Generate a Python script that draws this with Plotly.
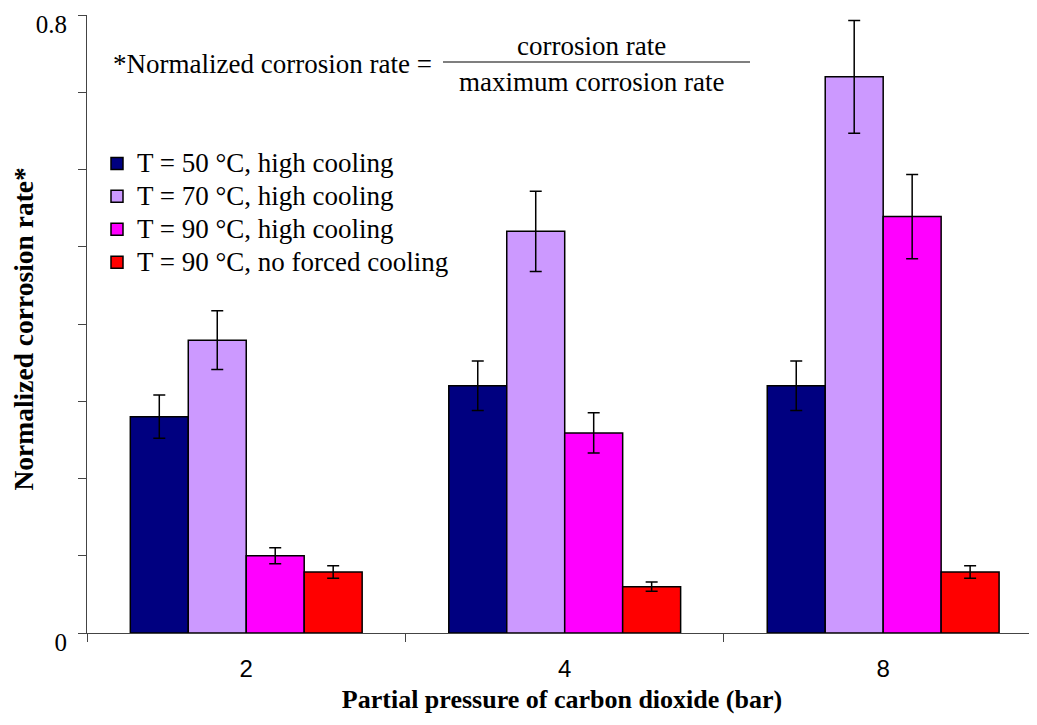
import plotly.graph_objects as go

categories = ["2", "4", "8"]
series_names = [
    "T = 50 °C, high cooling",
    "T = 70 °C, high cooling",
    "T = 90 °C, high cooling",
    "T = 90 °C, no forced cooling",
]
series_colors = ["#000080", "#CC99FF", "#FF00FF", "#FF0000"]
values_50_high = [0.280, 0.320, 0.320]
values_70_high = [0.379, 0.520, 0.720]
values_90_high = [0.100, 0.259, 0.539]
values_90_none = [0.079, 0.060, 0.079]
errors_50_high = [0.028, 0.032, 0.032]
errors_70_high = [0.038, 0.052, 0.073]
errors_90_high = [0.0105, 0.026, 0.0545]
errors_90_none = [0.008, 0.006, 0.008]
y_tick_vals = [0, 0.1, 0.2, 0.3, 0.4, 0.5, 0.6, 0.7, 0.8]
y_tick_text = ["0", "", "", "", "", "", "", "", "0.8"]

all_values = [values_50_high, values_70_high, values_90_high, values_90_none]
all_errors = [errors_50_high, errors_70_high, errors_90_high, errors_90_none]

SERIF = "Liberation Serif, Times New Roman, serif"
SANS = "Liberation Sans, Arial, sans-serif"

# page has an 8px body margin; compensate so the plot area lands at page 87..1037 x 15..633
OFF = 8
W, H = 1037 - OFF, 725 - OFF
PL, PR, PT, PB = 87, 1037, 15, 633  # plot area in page pixels
L, R, T, B = PL - OFF, 0, PT - OFF, H - (PB - OFF)
pw, ph = PR - PL, PB - PT


def px(x):
    return (x - PL) / pw


def py(y):
    return (PB - y) / ph


fig = go.Figure()
for name, color, vals, errs in zip(series_names, series_colors, all_values, all_errors):
    fig.add_trace(go.Bar(
        x=categories, y=vals, name='<span style="font-size:27px">%s</span>' % name,
        marker=dict(color=color, line=dict(color="black", width=1.5)),
        error_y=dict(type="data", array=errs, visible=True, color="black",
                     thickness=1.5, width=6),
    ))

fig.update_layout(
    width=W, height=H,
    margin=dict(l=L, r=R, t=T, b=B, autoexpand=False),
    paper_bgcolor="white", plot_bgcolor="white",
    barmode="group", bargap=0.272, bargroupgap=0,
    showlegend=True,
    legend=dict(x=px(97), y=py(142), xanchor="left", yanchor="top",
                font=dict(family=SERIF, size=23, color="black"),
                bgcolor="rgba(0,0,0,0)", tracegroupgap=0, itemwidth=30),
    xaxis=dict(type="category", tickson="boundaries", ticks="outside", ticklen=8,
               tickcolor="#444", showline=True, linecolor="#444", linewidth=1,
               showgrid=False, range=[-0.5, 2.483], automargin=False,
               tickfont=dict(family=SANS, size=24, color="black"),
               ticklabelstandoff=14,
               title=dict(text="<b>Partial pressure of carbon dioxide (bar)</b>",
                          font=dict(family=SERIF, size=26, color="black"), standoff=9)),
    yaxis=dict(range=[0, 0.8], tickvals=y_tick_vals, ticktext=y_tick_text,
               ticks="outside", ticklen=8, tickcolor="#444", automargin=False,
               showline=True, linecolor="#444", linewidth=1, showgrid=False,
               zeroline=False, ticklabelshift=9, ticklabelstandoff=6,
               tickfont=dict(family=SERIF, size=25, color="black")),
)

fig.add_annotation(xref="paper", yref="paper", x=px(23), y=py(329.5),
                   xanchor="center", yanchor="middle", showarrow=False, textangle=-90,
                   text="<b>Normalized corrosion rate*</b>",
                   font=dict(family=SERIF, size=27.5, color="black"))
fig.add_annotation(xref="paper", yref="paper", x=px(111), y=py(64),
                   xanchor="left", yanchor="middle", showarrow=False,
                   text="*Normalized corrosion rate =",
                   font=dict(family=SERIF, size=27, color="black"))
fig.add_annotation(xref="paper", yref="paper", x=px(591), y=py(46),
                   xanchor="center", yanchor="middle", showarrow=False,
                   text="corrosion rate",
                   font=dict(family=SERIF, size=27, color="black"))
fig.add_annotation(xref="paper", yref="paper", x=px(591), y=py(82),
                   xanchor="center", yanchor="middle", showarrow=False,
                   text="maximum corrosion rate",
                   font=dict(family=SERIF, size=27, color="black"))
fig.add_shape(type="line", xref="paper", yref="paper",
              x0=px(443), x1=px(750), y0=py(62), y1=py(62),
              line=dict(color="black", width=1.2))

fig.write_html("out.html")
